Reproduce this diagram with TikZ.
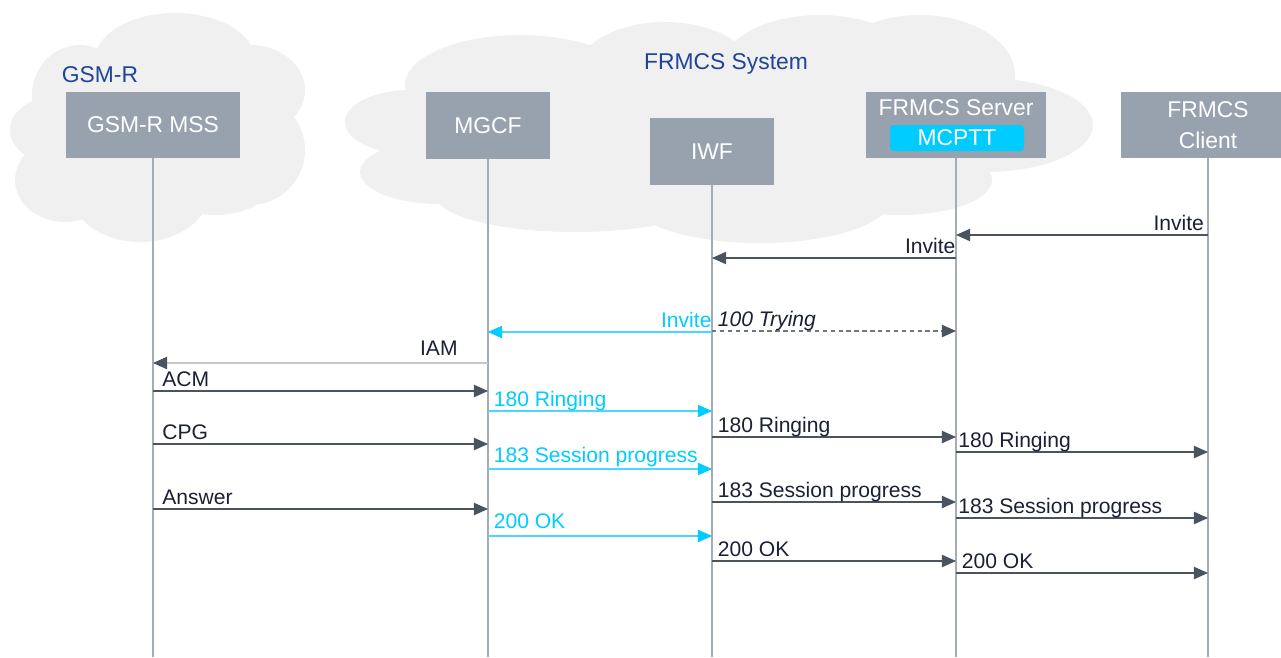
\documentclass[tikz,border=0pt]{standalone}
\usepackage{fontspec}
\setmainfont{Liberation Sans}
\usetikzlibrary{arrows.meta, positioning}

\definecolor{cloudgray}{HTML}{F0F0F0}
\definecolor{boxgray}{HTML}{98A2AE}
\definecolor{lifegray}{HTML}{A4ACB7}
\definecolor{msgdark}{HTML}{4B5361}
\definecolor{msglight}{HTML}{C4C8CE}
\definecolor{mcpttcyan}{HTML}{00CCFF}
\definecolor{cyanline}{HTML}{4DD6FF}
\definecolor{titleblue}{HTML}{1F4597}
\definecolor{labeltext}{HTML}{1C2035}

\begin{document}
\begin{tikzpicture}[
    x=0.02cm, y=-0.02cm,
    entity/.style={rectangle, fill=boxgray, text=white, font=\fontsize{13}{18}\selectfont, align=center, inner sep=0pt},
    title/.style={font=\fontsize{13}{16}\selectfont, text=titleblue, inner sep=0pt},
    life/.style={lifegray, line width=1.1pt},
    msg/.style={msgdark, line width=0.65pt, -{Triangle[length=8pt, width=7pt]}},
    cmsg/.style={cyanline, line width=0.6pt, -{Triangle[length=8pt, width=7pt, color=mcpttcyan]}},
    rlbl/.style={anchor=base west, xshift=3pt, yshift=2.5pt, inner sep=0pt, font=\fontsize{12}{14}\selectfont, text=labeltext},
    llbl/.style={rlbl, anchor=base east, xshift=-3pt}
]
    \useasboundingbox (0,0) rectangle (1281,657);

    % clouds
    \fill[cloudgray] (80,95) ellipse [x radius=48, y radius=50]
        (175,60) ellipse [x radius=80, y radius=47]
        (250,90) ellipse [x radius=55, y radius=45]
        (250,150) ellipse [x radius=55, y radius=55]
        (60,130) ellipse [x radius=50, y radius=35]
        (65,180) ellipse [x radius=50, y radius=42]
        (140,190) ellipse [x radius=70, y radius=52]
        (215,185) ellipse [x radius=55, y radius=30]
        (155,130) ellipse [x radius=110, y radius=70];
    \fill[cloudgray] (410,122) ellipse [x radius=65, y radius=32]
        (440,172) ellipse [x radius=80, y radius=32]
        (520,85) ellipse [x radius=115, y radius=50]
        (665,75) ellipse [x radius=90, y radius=53]
        (820,70) ellipse [x radius=100, y radius=55]
        (920,75) ellipse [x radius=95, y radius=60]
        (985,125) ellipse [x radius=108, y radius=47]
        (575,195) ellipse [x radius=140, y radius=37]
        (760,200) ellipse [x radius=130, y radius=43]
        (900,180) ellipse [x radius=92, y radius=35]
        (720,130) ellipse [x radius=300, y radius=70];

    \node[title] (gsmr) at (100,75) {GSM-R};
    \node[title] (frmcs) at (726,64) {FRMCS System};

    % entities
    \node[entity, minimum width=3.48cm, minimum height=1.32cm] (mss) at (153,125) {GSM-R MSS};
    \node[entity, minimum width=2.5cm, minimum height=1.34cm] (mgcf) at (488,125.5) {MGCF};
    \node[entity, minimum width=2.5cm, minimum height=1.34cm] (iwf) at (712,151.5) {IWF};
    \node[entity, minimum width=3.62cm, minimum height=1.32cm] (srv) at (956,125) {};
    \node[entity, fill=none] (srvname) at (956,108) {FRMCS Server};
    \node[entity, fill=mcpttcyan, rounded corners=2pt, minimum width=2.68cm, minimum height=0.52cm] (mcptt) at (957,138) {MCPTT};
    \node[entity, minimum width=3.48cm, minimum height=1.32cm] (client) at (1208,125) {FRMCS\\Client};

    % lifelines
    \draw[life] (mss.south) -- (mss.south |- 0,657);
    \draw[life] (mgcf.south) -- (mgcf.south |- 0,657);
    \draw[life] (iwf.south) -- (iwf.south |- 0,657);
    \draw[life] (srv.south) -- (srv.south |- 0,657);
    \draw[life] (client.south) -- (client.south |- 0,657);

    % messages
    \draw[msg] (client |- 0,235) -- (srv |- 0,235) node[llbl, pos=0, xshift=-2pt] {Invite};
    \draw[msg] (srv |- 0,258) -- (iwf |- 0,258) node[llbl, pos=0] {Invite};
    \draw[cmsg] (iwf |- 0,332) -- (mgcf |- 0,332) node[llbl, pos=0, text=mcpttcyan] {Invite};
    \draw[msgdark!80, line width=0.65pt, dash pattern=on 2.5pt off 2pt, -{Triangle[length=8pt, width=7pt, color=msgdark]}]
        (iwf |- 0,331) -- (srv |- 0,331) node[rlbl, pos=0, font=\fontsize{12}{14}\selectfont\itshape] {100 Trying};
    \draw[msglight, line width=0.65pt, -{Triangle[length=8pt, width=7pt, color=msgdark]}]
        (mgcf |- 0,363) -- (mss |- 0,363) node[llbl, pos=0, xshift=-17pt, yshift=2pt] {IAM};
    \draw[msg] (mss |- 0,391) -- (mgcf |- 0,391) node[rlbl, pos=0, xshift=2pt] {ACM};
    \draw[cmsg] (mgcf |- 0,411) -- (iwf |- 0,411) node[rlbl, pos=0, text=mcpttcyan] {180 Ringing};
    \draw[msg] (iwf |- 0,437) -- (srv |- 0,437) node[rlbl, pos=0] {180 Ringing};
    \draw[msg] (srv |- 0,452) -- (client |- 0,452) node[rlbl, pos=0, xshift=-2pt] {180 Ringing};
    \draw[msg] (mss |- 0,444) -- (mgcf |- 0,444) node[rlbl, pos=0, xshift=2pt] {CPG};
    \draw[cmsg] (mgcf |- 0,469) -- (iwf |- 0,469) node[rlbl, pos=0, text=mcpttcyan, yshift=1pt] {183 Session progress};
    \draw[msg] (iwf |- 0,502) -- (srv |- 0,502) node[rlbl, pos=0] {183 Session progress};
    \draw[msg] (srv |- 0,518) -- (client |- 0,518) node[rlbl, pos=0, xshift=-2pt] {183 Session progress};
    \draw[msg] (mss |- 0,509) -- (mgcf |- 0,509) node[rlbl, pos=0, xshift=2pt] {Answer};
    \draw[cmsg] (mgcf |- 0,536) -- (iwf |- 0,536) node[rlbl, pos=0, text=mcpttcyan, yshift=1.5pt] {200 OK};
    \draw[msg] (iwf |- 0,561) -- (srv |- 0,561) node[rlbl, pos=0] {200 OK};
    \draw[msg] (srv |- 0,573) -- (client |- 0,573) node[rlbl, pos=0] {200 OK};
\end{tikzpicture}
\end{document}
